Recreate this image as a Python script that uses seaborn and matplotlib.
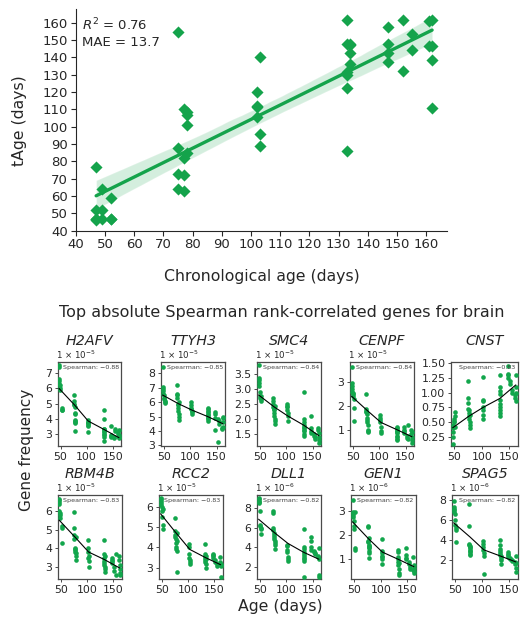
import matplotlib
matplotlib.use("Agg")
import matplotlib.pyplot as plt
import seaborn as sns
import pandas as pd

# ---------------- data ----------------
CHRON_AGE = [47, 47, 47, 47, 47, 49, 49, 49, 52, 52, 52,
             75, 75, 75, 75, 77, 77, 77, 77, 78, 78, 78, 78,
             102, 102, 102, 102, 103, 103, 103,
             133, 133, 133, 133, 133, 133, 134, 134, 134, 134,
             147, 147, 147, 147, 152, 152, 155, 155, 161, 161, 162, 162, 162, 162]
T_AGE = [77, 52, 47, 47, 46, 64, 52, 47, 59, 47, 47,
         154.5, 88, 73, 64, 110, 72, 63, 82, 108.5, 107, 101, 85,
         120, 112, 111.5, 105.5, 140.5, 96, 89,
         161.5, 148, 131.5, 130, 122.5, 86, 148, 147, 142.5, 136.5,
         157.5, 148, 142.5, 137.5, 161.5, 132, 153.5, 144.5, 161, 146.5, 161.5, 146.5, 138.5, 111]
R2_VALUE = "0.76"
MAE_VALUE = "13.7"

GENES = ["H2AFV", "TTYH3", "SMC4", "CENPF", "CNST",
         "RBM4B", "RCC2", "DLL1", "GEN1", "SPAG5"]
SPEARMAN = ["\u22120.88", "\u22120.85", "\u22120.84", "\u22120.84", "\u22120.83",
            "\u22120.83", "\u22120.83", "\u22120.82", "\u22120.82", "\u22120.82"]
SCALE_EXP = [-5, -5, -5, -5, None, -5, -5, -6, -6, -6]

# gene frequencies (in units of the panel's scale), same sample order as CHRON_AGE
H2AFV = [7.55, 7.4, 6.6, 6.5, 6.3, 6.2, 6.0, 5.9, 4.7, 4.6, 4.55,
         5.6, 5.2, 5.0, 4.9, 4.4, 4.3, 3.9, 3.8, 3.75, 3.2, 4.8, 3.85,
         3.9, 3.8, 3.7, 3.6, 3.5, 3.1, 3.75,
         4.6, 4.0, 3.3, 3.2, 3.1, 3.0, 2.8, 2.5, 3.35, 2.95,
         3.5, 2.9, 2.85, 2.8, 2.8, 2.75, 3.3, 3.2, 3.1, 3.0, 2.9, 2.8, 2.7, 3.25]
TTYH3 = [8.45, 7.05, 6.95, 6.8, 6.6, 6.5, 6.3, 6.2, 6.1, 6.0, 5.95,
         7.2, 6.6, 6.5, 6.3, 5.9, 5.8, 5.6, 5.4, 5.2, 5.0, 4.75, 6.0,
         6.0, 5.8, 5.6, 5.5, 5.3, 5.2, 5.4,
         5.6, 5.5, 5.3, 5.2, 5.1, 5.0, 4.9, 4.8, 4.7, 5.4,
         5.3, 5.2, 4.9, 4.05, 3.2, 4.8, 4.7, 4.5, 4.2, 4.1, 5.0, 4.9, 4.6, 4.3]
SMC4 = [3.8, 3.35, 3.3, 3.2, 3.1, 2.9, 2.75, 2.7, 2.65, 2.6, 2.75,
        2.7, 2.6, 2.5, 2.4, 2.35, 2.3, 2.2, 2.1, 2.0, 1.95, 1.85, 2.45,
        2.5, 2.45, 2.4, 2.3, 2.2, 2.1, 1.95,
        2.9, 2.0, 1.9, 1.8, 1.7, 1.65, 1.6, 1.5, 1.45, 1.75,
        2.1, 1.7, 1.6, 1.55, 1.5, 1.45, 1.4, 1.35, 1.7, 1.65, 1.55, 1.4, 1.3, 1.2]
CENPF = [3.65, 2.95, 2.85, 2.7, 2.6, 2.55, 2.5, 2.4, 2.3, 1.9, 1.35,
         2.5, 1.85, 1.8, 1.75, 1.65, 1.5, 1.4, 1.3, 1.2, 1.0, 0.95, 0.9,
         1.6, 1.5, 1.4, 1.3, 1.1, 0.95, 0.85,
         1.1, 1.05, 1.0, 0.95, 0.9, 0.85, 0.75, 0.7, 0.6, 0.55,
         1.1, 1.0, 0.95, 0.85, 0.75, 0.65, 0.6, 1.2, 1.0, 0.8, 0.7, 0.55, 0.45, 0.9]
CNST = [0.12, 0.25, 0.33, 0.4, 0.45, 0.5, 0.52, 0.55, 0.6, 0.67, 0.42,
        1.2, 0.9, 0.83, 0.72, 0.7, 0.65, 0.6, 0.55, 0.5, 0.45, 0.4, 0.62,
        1.26, 0.88, 0.85, 0.75, 0.7, 0.62, 0.55,
        1.3, 1.02, 0.98, 0.88, 0.8, 0.75, 0.7, 0.65, 0.6, 1.1,
        1.45, 1.32, 1.3, 1.25, 1.2, 1.15, 1.05, 1.0, 0.95, 0.9, 1.3, 1.1, 1.0, 0.85]
RBM4B = [6.65, 6.6, 6.5, 6.35, 6.0, 5.9, 5.8, 5.6, 5.2, 5.1, 4.3,
         5.95, 5.1, 4.7, 4.5, 4.0, 3.95, 3.9, 3.8, 3.75, 3.6, 3.4, 4.6,
         4.45, 4.0, 3.8, 3.5, 3.3, 3.0, 3.6,
         4.45, 3.7, 3.5, 3.3, 3.2, 3.1, 2.9, 2.75, 3.6, 3.0,
         3.5, 3.4, 3.3, 3.2, 3.0, 2.8, 2.6, 3.7, 3.6, 3.35, 2.9, 2.7, 2.55, 3.1]
RCC2 = [6.4, 6.35, 6.3, 6.2, 6.1, 6.0, 5.8, 5.5, 5.1, 4.9, 5.9,
        5.45, 4.8, 4.6, 4.5, 4.4, 4.2, 4.0, 3.9, 3.8, 2.8, 4.7, 4.3,
        4.15, 4.0, 3.7, 3.5, 3.3, 3.2, 3.4,
        4.15, 3.7, 3.6, 3.5, 3.4, 3.3, 3.2, 3.0, 3.6, 3.45,
        3.7, 3.65, 3.6, 3.5, 3.4, 3.3, 3.2, 3.1, 3.55, 3.3, 3.2, 3.15, 2.55, 3.1]
DLL1 = [9.0, 8.9, 8.7, 8.6, 8.5, 7.7, 6.3, 6.2, 6.0, 5.9, 5.4,
        7.7, 7.5, 6.0, 5.8, 5.5, 5.3, 5.0, 4.8, 4.6, 4.4, 4.2, 3.8,
        4.2, 4.1, 3.7, 3.5, 3.0, 2.8, 2.6,
        5.85, 4.0, 3.8, 3.5, 3.3, 3.1, 2.9, 2.8, 2.6, 1.0,
        5.1, 4.6, 4.0, 3.7, 3.6, 3.5, 3.4, 3.3, 3.1, 3.0, 2.8, 1.05, 1.2, 3.9]
GEN1 = [3.45, 2.95, 2.9, 2.85, 2.75, 2.6, 2.4, 2.25, 1.45, 1.4, 2.95,
        2.4, 2.35, 1.75, 1.7, 1.6, 1.5, 1.45, 1.35, 1.25, 1.05, 1.9, 1.55,
        1.85, 1.35, 1.25, 1.15, 1.0, 0.8, 1.1,
        1.4, 1.3, 1.1, 1.0, 0.9, 0.75, 0.6, 0.45, 0.35, 0.85,
        1.45, 1.2, 1.05, 1.0, 0.9, 0.8, 0.7, 0.6, 0.55, 1.1, 0.75, 0.65, 0.5, 0.45]
SPAG5 = [7.9, 7.3, 7.1, 7.0, 6.8, 6.6, 6.0, 5.5, 5.2, 5.0, 3.8,
         7.6, 5.4, 3.6, 3.5, 3.3, 3.2, 3.0, 2.9, 2.8, 2.6, 2.5, 3.4,
         3.9, 3.6, 3.3, 3.0, 2.7, 2.4, 0.6,
         4.0, 3.5, 3.1, 2.9, 2.7, 2.5, 2.2, 2.0, 1.6, 2.4,
         2.8, 2.6, 2.5, 2.3, 2.2, 2.1, 2.0, 1.9, 1.8, 1.6, 1.2, 2.4, 1.7, 0.8]

TREND_AGES = [47, 77, 103, 133, 162]
H2AFV_TREND = [6.0, 4.9, 3.85, 3.3, 2.75]
TTYH3_TREND = [6.5, 5.9, 5.45, 5.0, 4.5]
SMC4_TREND = [2.8, 2.4, 2.1, 1.8, 1.45]
CENPF_TREND = [2.4, 1.8, 1.3, 1.0, 0.7]
CNST_TREND = [0.4, 0.6, 0.75, 0.9, 1.13]
RBM4B_TREND = [5.5, 4.6, 3.8, 3.4, 2.95]
RCC2_TREND = [5.65, 4.7, 3.9, 3.5, 3.15]
DLL1_TREND = [6.85, 5.5, 4.4, 3.5, 2.8]
GEN1_TREND = [2.55, 1.85, 1.3, 1.0, 0.7]
SPAG5_TREND = [5.7, 4.3, 3.0, 2.4, 1.8]

GENE_VALUES = [H2AFV, TTYH3, SMC4, CENPF, CNST, RBM4B, RCC2, DLL1, GEN1, SPAG5]
GENE_TRENDS = [H2AFV_TREND, TTYH3_TREND, SMC4_TREND, CENPF_TREND, CNST_TREND,
               RBM4B_TREND, RCC2_TREND, DLL1_TREND, GEN1_TREND, SPAG5_TREND]
YTICKS = [[3, 4, 5, 6, 7], [3, 4, 5, 6, 7, 8], [1.5, 2.0, 2.5, 3.0, 3.5], [1, 2, 3],
          [0.25, 0.5, 0.75, 1.0, 1.25, 1.5], [3, 4, 5, 6], [3, 4, 5, 6], [2, 4, 6, 8],
          [1, 2, 3], [2, 4, 6, 8]]
XTICKS = [50, 100, 150]

# ---------------- style ----------------
sns.set_style("ticks")
plt.rcParams["font.family"] = ["DejaVu Sans"]
GREEN = "#14a34b"
DOT_GREEN = "#12a64c"
SPINE = "#4a4a4a"

W, H = 521, 619
fig = plt.figure(figsize=(W / 100, H / 100), dpi=100)


def px_axes(l, t, r, b):
    return fig.add_axes([l / W, 1 - b / H, (r - l) / W, (b - t) / H])


# ---------------- top regression panel ----------------
ax = px_axes(75.7, 9, 446.7, 230.7)
top_df = pd.DataFrame({"chron": CHRON_AGE, "tage": T_AGE})
sns.regplot(data=top_df, x="chron", y="tage", ax=ax, color=GREEN, marker="D",
            ci=95, seed=0, n_boot=1000,
            scatter_kws=dict(s=38, linewidths=0, alpha=1, zorder=3),
            line_kws=dict(lw=2.4, zorder=4))
for coll in ax.collections:
    if coll.__class__.__name__ in ("PolyCollection", "FillBetweenPolyCollection"):
        coll.set_alpha(0.18)
ax.set_xlim(40, 167)
ax.set_ylim(40, 168)
ax.set_xticks(range(40, 161, 10))
ax.set_yticks(range(40, 161, 10))
ax.set_xlabel("")
ax.set_ylabel("")
ax.tick_params(labelsize=9.5, length=3.5, width=0.8, pad=2)
sns.despine(ax=ax)
for s in ("left", "bottom"):
    ax.spines[s].set_linewidth(0.8)
ax.text(81.7, 25, "$R^2$ = " + R2_VALUE, transform=None, fontsize=9.5, va="center")
ax.texts[-1].set_transform(fig.transFigure)
ax.texts[-1].set_position((81.7 / W, 1 - 25 / H))
ax.text(81.7 / W, 1 - 42 / H, "MAE = " + MAE_VALUE, transform=fig.transFigure,
        fontsize=9.5, va="center")

fig.text(20 / W, 1 - 121 / H, "tAge (days)", rotation=90, ha="center", va="center",
         fontsize=11.3)
fig.text(262 / W, 1 - 276 / H, "Chronological age (days)", ha="center", va="center",
         fontsize=11.3)
fig.text(282 / W, 1 - 312 / H, "Top absolute Spearman rank-correlated genes for brain",
         ha="center", va="center", fontsize=11.5)

# ---------------- small panels ----------------
ROW_TB = [(362, 446), (495, 579)]
COL_LR = [[(57.5, 121), (161, 225), (257, 321), (350, 414), (451, 518)],
          [(57.7, 121.7), (159, 222.7), (257, 321), (351, 416), (452, 518)]]
YLIMS = [(2.2, 7.75), (2.95, 8.8), (1.11, 3.89), (0.31, 3.84), (0.09, 1.52),
         (2.36, 6.85), (2.45, 6.57), (0.8, 9.3), (0.19, 3.66), (0.1, 8.47)]

for i, gene in enumerate(GENES):
    r, c = divmod(i, 5)
    t, b = ROW_TB[r]
    l, rr = COL_LR[r][c]
    a = px_axes(l, t, rr, b)
    sns.scatterplot(x=CHRON_AGE, y=GENE_VALUES[i], ax=a, color=DOT_GREEN, s=11,
                    linewidth=0, zorder=3)
    sns.lineplot(x=TREND_AGES, y=GENE_TRENDS[i], ax=a, color="black", lw=0.8,
                 sort=False, zorder=4)
    a.set_xlim(44, 166)
    a.set_ylim(*YLIMS[i])
    a.set_xticks(XTICKS)
    a.set_yticks(YTICKS[i])
    a.tick_params(labelsize=7.8, length=2.5, width=0.7, pad=1.5, color=SPINE)
    for s in a.spines.values():
        s.set_color(SPINE)
        s.set_linewidth(0.9)
        s.set_visible(True)
    a.text(0.5, 1.25, gene, transform=a.transAxes, ha="center", va="center",
           fontsize=10.3, style="italic")
    if SCALE_EXP[i] is not None:
        a.text(-0.03, 1.085, "1 \u00d7 10$^{%d}$" % SCALE_EXP[i], transform=a.transAxes,
               ha="left", va="center", fontsize=6.2)
    a.text(0.965, 0.965, "Spearman: " + SPEARMAN[i], transform=a.transAxes,
           ha="right", va="top", fontsize=4.6, color="#444444")

fig.text(26 / W, 1 - 450 / H, "Gene frequency", rotation=90, ha="center", va="center",
         fontsize=11)
fig.text(280 / W, 1 - 607 / H, "Age (days)", ha="center", va="center", fontsize=11.3)

fig.savefig("out.png", dpi=100)
